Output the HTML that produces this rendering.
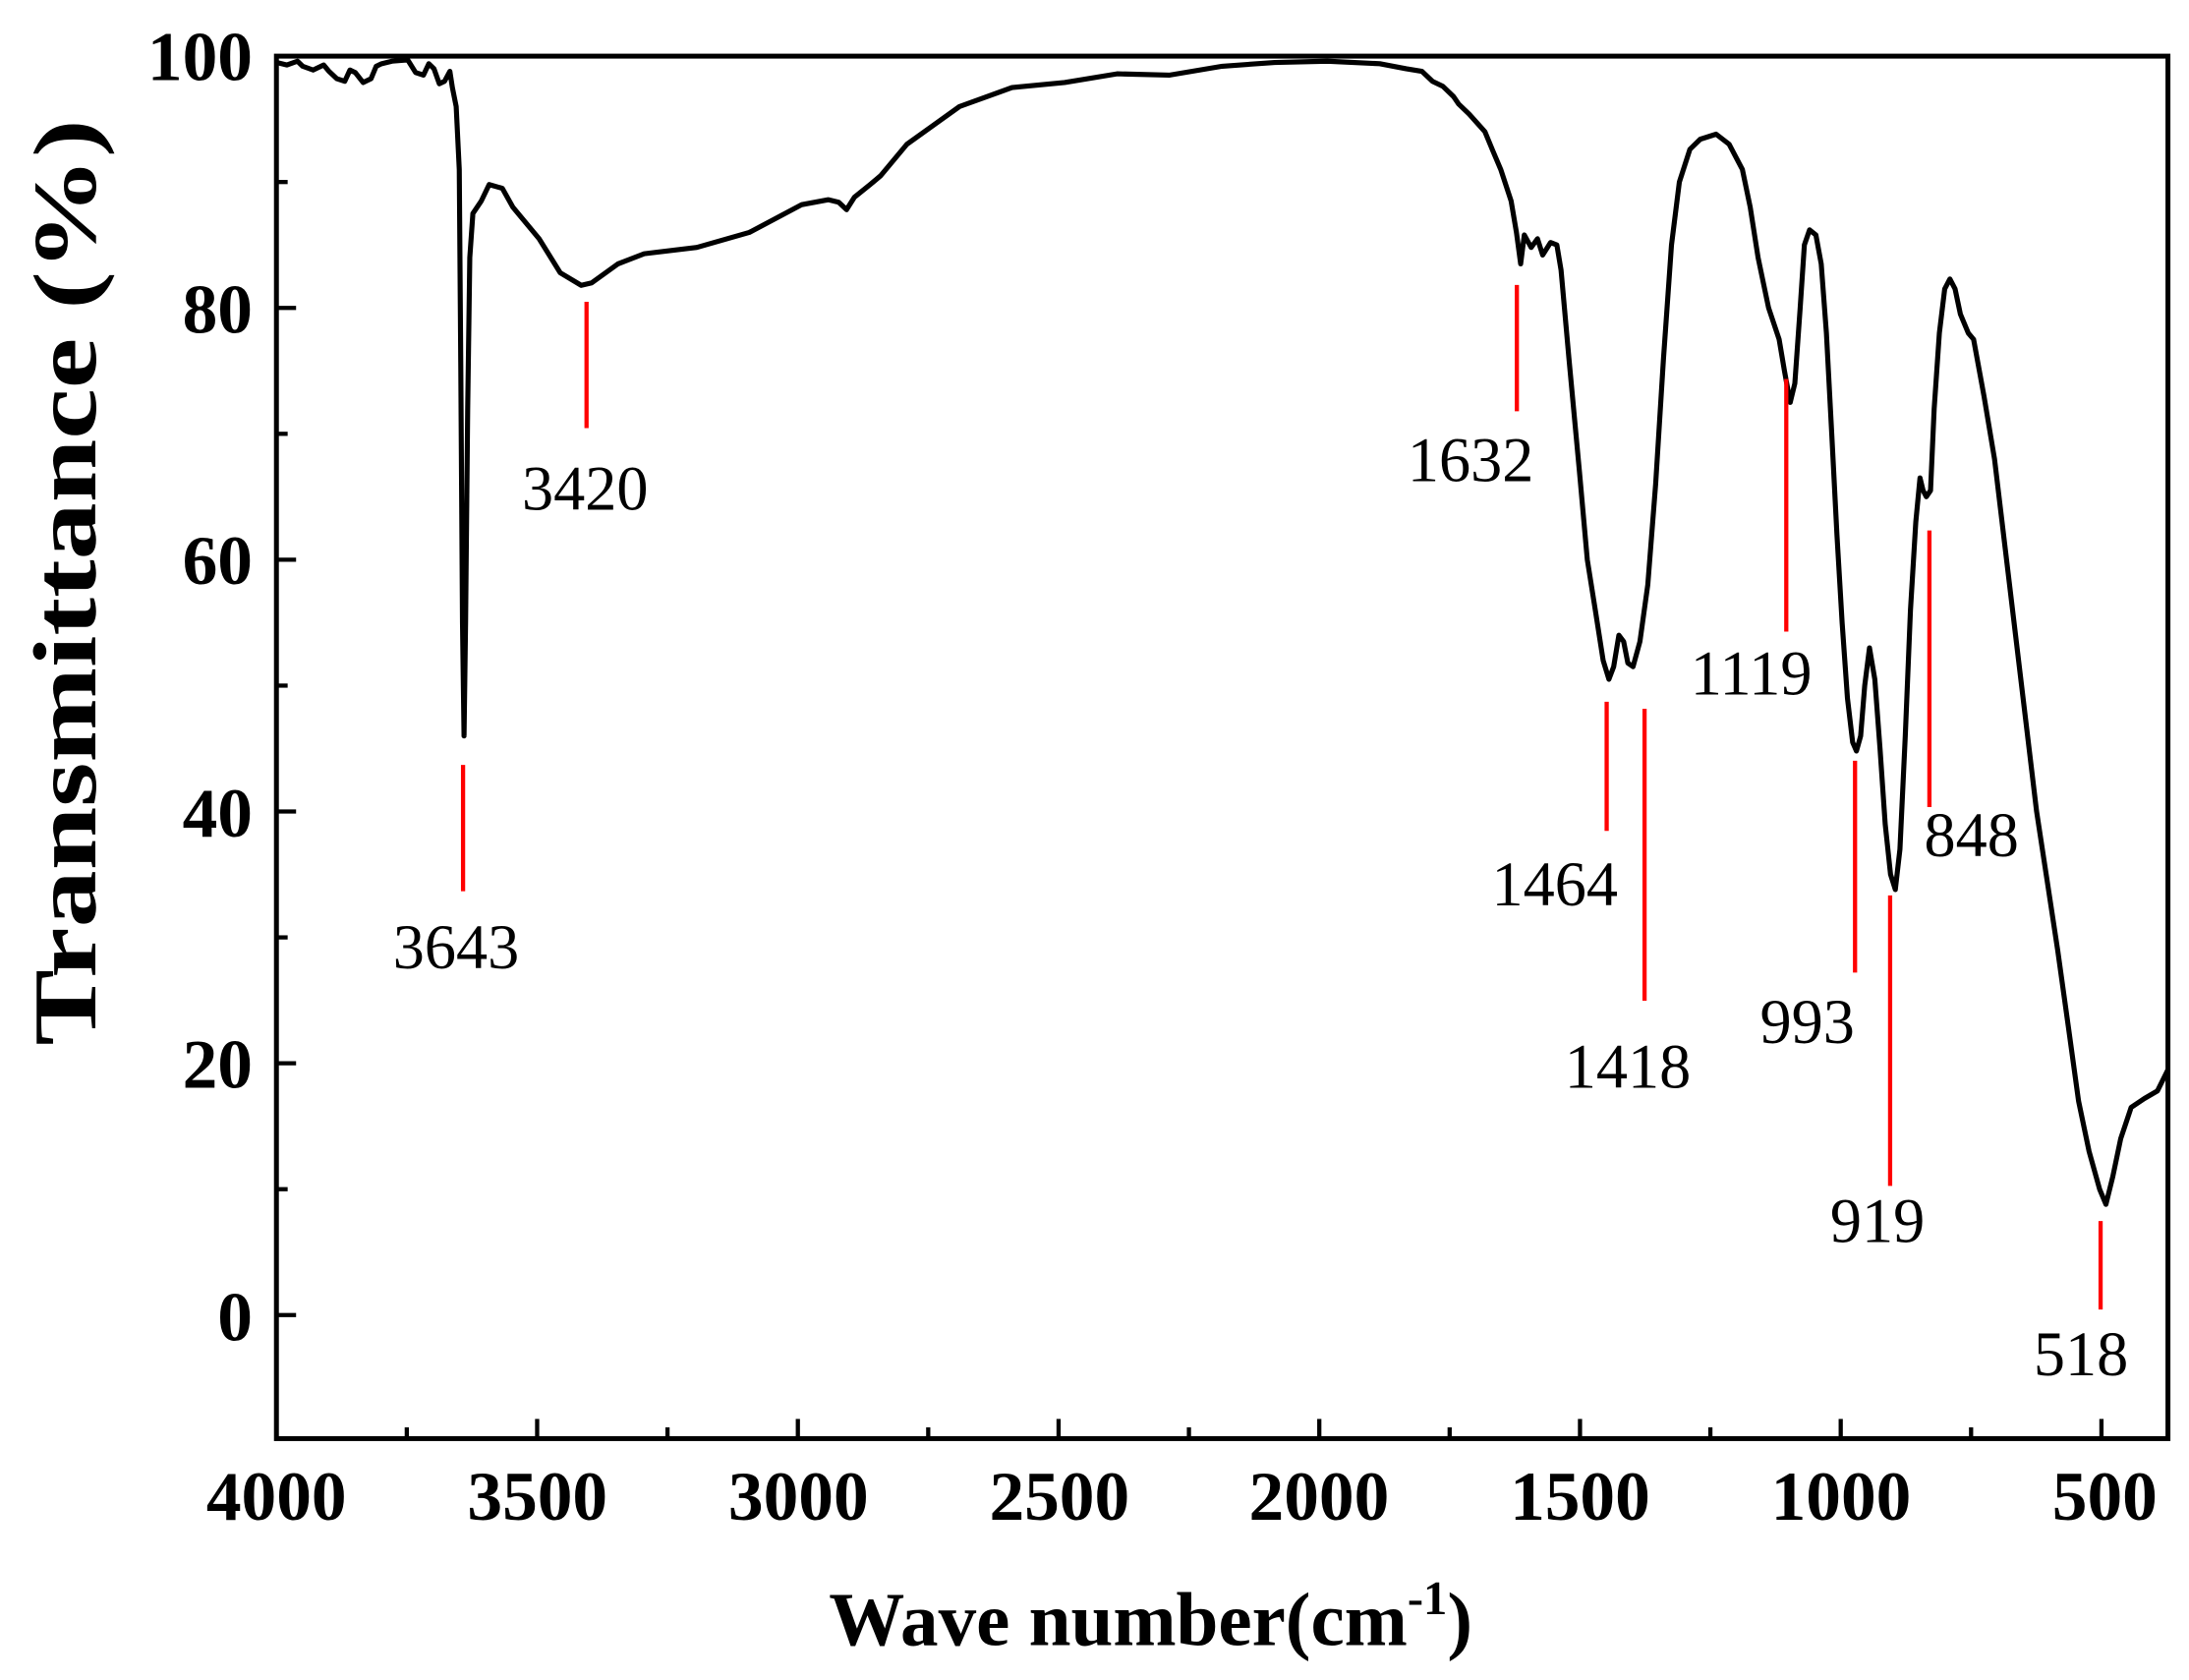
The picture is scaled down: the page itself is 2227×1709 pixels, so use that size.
<!DOCTYPE html>
<html><head><meta charset="utf-8"><style>
html,body{margin:0;padding:0;background:#fff;}
svg{display:block;}
.tk{font-family:"Liberation Serif",serif;font-weight:bold;font-size:50px;}
.pk{font-family:"Liberation Serif",serif;font-size:45px;}
</style></head><body>
<svg id="s" width="2227" height="1709" viewBox="0 0 1560 1197" preserveAspectRatio="none" xmlns="http://www.w3.org/2000/svg">
<rect x="0" y="0" width="1560" height="1197" fill="#fff"/>
<g id="ticks" stroke="#000" stroke-width="3"></g>
<path id="curve" fill="none" stroke="#000" stroke-width="3.6" stroke-linejoin="round"/>
<g stroke="#f00" stroke-width="3">
<line x1="330" y1="545" x2="330" y2="635"/>
<line x1="418" y1="215" x2="418" y2="305"/>
<line x1="1081" y1="203" x2="1081" y2="293"/>
<line x1="1145" y1="500" x2="1145" y2="592"/>
<line x1="1172" y1="505" x2="1172" y2="713"/>
<line x1="1273" y1="270" x2="1273" y2="450"/>
<line x1="1322" y1="542" x2="1322" y2="693"/>
<line x1="1347" y1="638" x2="1347" y2="845"/>
<line x1="1375" y1="378" x2="1375" y2="575"/>
<line x1="1497" y1="870" x2="1497" y2="933"/>
</g>
<g class="pk" text-anchor="middle">
<text x="325" y="690">3643</text>
<text x="417" y="363">3420</text>
<text x="1048" y="343">1632</text>
<text x="1108" y="645">1464</text>
<text x="1160" y="775">1418</text>
<text x="1248" y="495">1119</text>
<text x="1288" y="743">993</text>
<text x="1338" y="885">919</text>
<text x="1405" y="610">848</text>
<text x="1483" y="980">518</text>
</g>
<rect x="197" y="40" width="1348" height="985" fill="none" stroke="#000" stroke-width="3.5"/>
<g class="tk" text-anchor="end">
<text x="180" y="57">100</text>
<text x="180" y="237">80</text>
<text x="180" y="416">60</text>
<text x="180" y="596">40</text>
<text x="180" y="775">20</text>
<text x="180" y="955">0</text>
</g>
<g class="tk" text-anchor="middle">
<text x="197" y="1083">4000</text>
<text x="383" y="1083">3500</text>
<text x="569" y="1083">3000</text>
<text x="755" y="1083">2500</text>
<text x="940" y="1083">2000</text>
<text x="1126" y="1083">1500</text>
<text x="1312" y="1083">1000</text>
<text x="1500" y="1083">500</text>
</g>
<text x="820" y="1172" text-anchor="middle" font-family="Liberation Serif,serif" font-weight="bold" font-size="54">Wave number(cm<tspan dy="-22" font-size="34">-1</tspan><tspan dy="22">)</tspan></text>
<text transform="translate(68,415) rotate(-90)" text-anchor="middle" font-family="Liberation Serif,serif" font-weight="bold" font-size="64" textLength="660" lengthAdjust="spacingAndGlyphs">Transmittance (%)</text>
</svg>
<script>
var X=function(w){return 197+(4000-w)*1348/3600;},Y=function(t){return 937-t*8.97;},XT=function(w){return 197+(4000-w)*0.3716;};
var d=[[4000,99.5],[3980,99.3],[3960,99.6],[3950,99.2],[3930,98.9],[3910,99.3],[3900,98.8],[3885,98.2],[3870,98],[3860,98.9],[3850,98.7],[3835,97.9],[3820,98.2],[3810,99.2],[3800,99.4],[3780,99.6],[3750,99.7],[3735,98.7],[3720,98.5],[3710,99.4],[3700,99],[3690,97.8],[3680,98],[3670,98.8],[3665,97.5],[3658,96],[3652,91],[3649,75],[3646,55],[3643,46],[3640,55],[3636,72],[3632,84],[3626,87.5],[3610,88.5],[3595,89.8],[3570,89.5],[3550,88],[3500,85.5],[3460,82.8],[3420,81.8],[3400,82],[3350,83.5],[3300,84.3],[3200,84.8],[3100,86],[3000,88.2],[2950,88.6],[2930,88.4],[2915,87.8],[2900,88.8],[2870,89.8],[2850,90.5],[2800,93],[2700,96],[2600,97.5],[2500,97.9],[2400,98.6],[2300,98.5],[2200,99.2],[2100,99.5],[2000,99.6],[1900,99.4],[1850,99],[1820,98.8],[1800,98],[1780,97.6],[1760,96.8],[1750,96.2],[1730,95.4],[1700,94],[1685,92.5],[1670,91],[1650,88.5],[1640,86],[1632,83.5],[1625,85.8],[1612,84.8],[1600,85.5],[1590,84.2],[1575,85.2],[1563,85],[1555,83],[1540,76],[1520,67],[1505,60],[1490,56],[1475,52],[1464,50.5],[1455,51.5],[1445,54],[1436,53.5],[1428,51.8],[1418,51.5],[1405,53.5],[1390,58],[1375,66],[1360,76],[1345,85],[1330,90],[1310,92.6],[1290,93.4],[1260,93.8],[1235,93],[1210,91],[1195,88],[1180,84],[1160,80],[1140,77.5],[1130,75],[1119,72.5],[1110,74],[1100,80],[1092,85],[1082,86.2],[1070,85.8],[1060,83.5],[1050,78],[1040,70],[1030,62],[1020,55],[1010,49],[1000,45.5],[993,44.8],[985,46],[977,50],[968,53],[958,50.5],[948,45],[938,39],[928,35],[919,33.8],[910,37],[900,46],[890,56],[880,63],[872,66.5],[866,65.5],[860,65],[852,65.5],[845,72],[835,78],[825,81.5],[815,82.3],[805,81.5],[795,79.5],[780,78],[770,77.5],[750,73],[730,68],[710,61],[690,54],[670,47],[650,40],[630,34.5],[610,29],[590,23],[570,17],[550,13],[530,10],[518,8.8],[505,11],[490,14],[470,16.5],[445,17.2],[420,17.8],[400,19.5]];
var p='';for(var i=0;i<d.length;i++){p+=(i?'L':'M')+X(d[i][0]).toFixed(1)+' '+Y(d[i][1]).toFixed(1);}
document.getElementById('curve').setAttribute('d',p);
var g=document.getElementById('ticks'),h='';
for(var t=0;t<=100;t+=10){var L=t%20==0?14:8;h+='<line x1="197" y1="'+Y(t)+'" x2="'+(197+L)+'" y2="'+Y(t)+'"/>';}
for(var w=4000;w>=500;w-=250){var L=w%500==0?14:8;h+='<line x1="'+XT(w)+'" y1="1025" x2="'+XT(w)+'" y2="'+(1025-L)+'"/>';}
g.innerHTML=h;
</script>
</body></html>
